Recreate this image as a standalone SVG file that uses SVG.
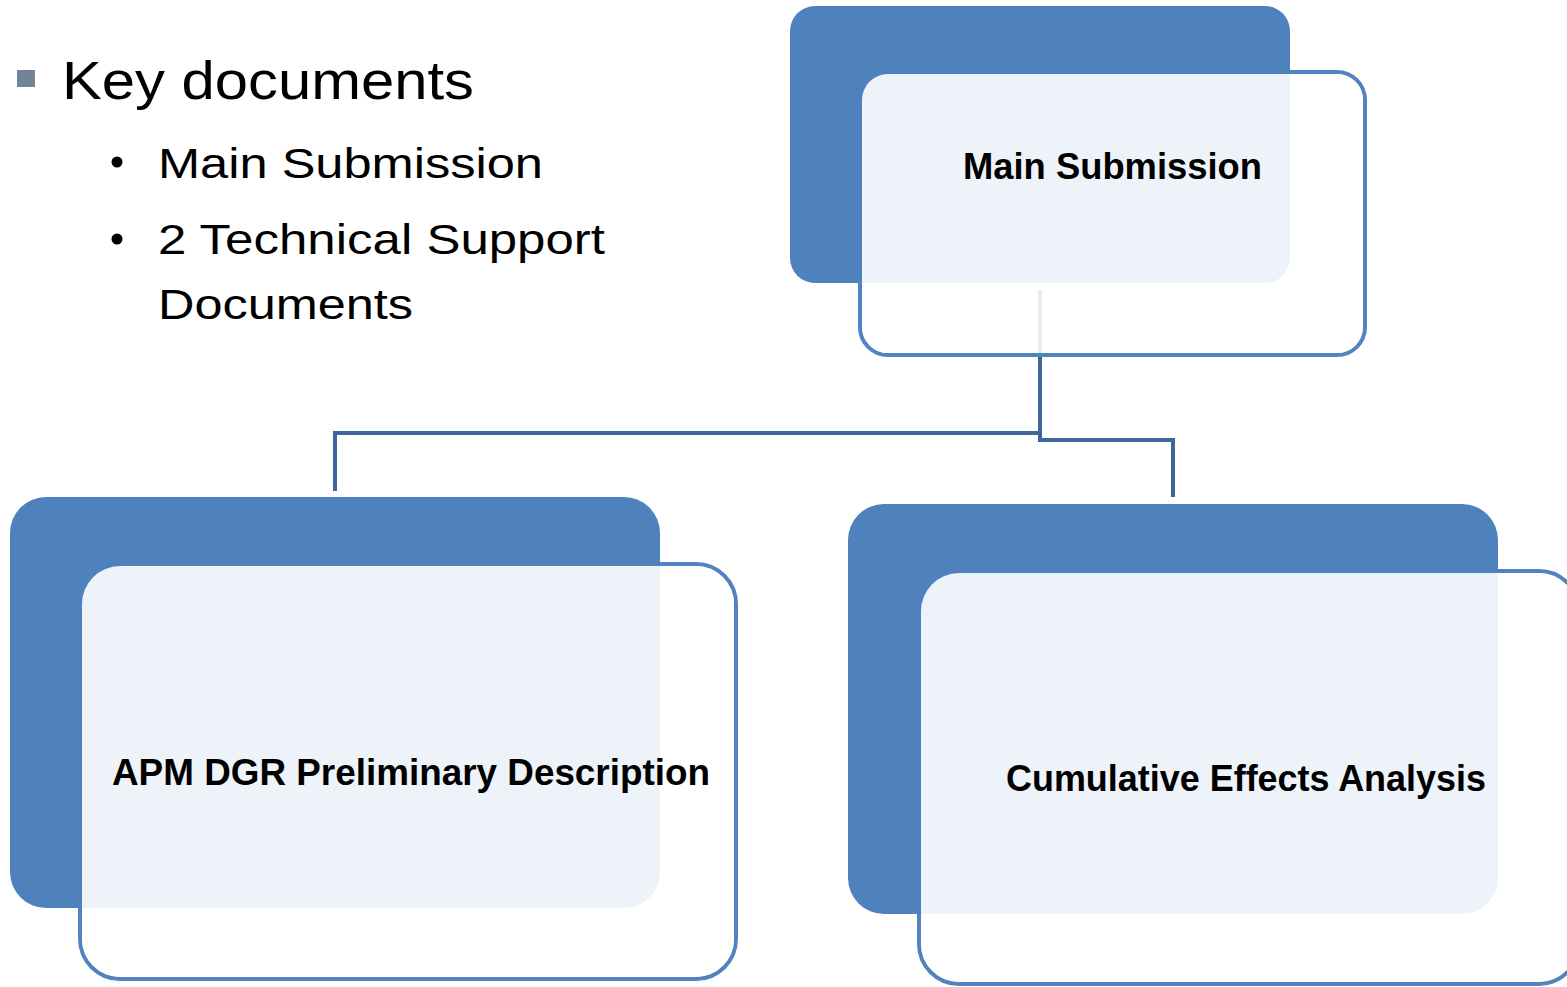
<svg xmlns="http://www.w3.org/2000/svg" width="1567" height="987" viewBox="0 0 1567 987">
<style>
.outline{fill:#ffffff;stroke:#5283C0;stroke-width:4}
.back{fill:#4F81BD}
.veil{fill:#ffffff;fill-opacity:0.9}
.lbl{font-family:"Liberation Sans",Arial,sans-serif;font-weight:bold;font-size:36px;fill:#000}
.body{font-family:"Liberation Sans",Arial,sans-serif;fill:#000}
.conn{fill:none;stroke:#3F6698;stroke-width:4}
</style>
<rect width="1567" height="987" fill="#ffffff"/>
<g id="bullets">
<rect x="17" y="70" width="18" height="17" fill="#718596"/>
<text class="body" x="62" y="99" font-size="53" textLength="412" lengthAdjust="spacingAndGlyphs">Key documents</text>
<circle cx="117" cy="162" r="5.5" fill="#000"/>
<text class="body" x="158" y="178" font-size="43" textLength="385" lengthAdjust="spacingAndGlyphs">Main Submission</text>
<circle cx="117" cy="239" r="5.5" fill="#000"/>
<text class="body" x="158" y="254" font-size="43" textLength="447" lengthAdjust="spacingAndGlyphs">2 Technical Support</text>
<text class="body" x="158" y="319" font-size="43" textLength="255" lengthAdjust="spacingAndGlyphs">Documents</text>
</g>
<g id="node-main">
<rect class="outline" x="860" y="72" width="505" height="283" rx="28"/>
<rect class="back" x="790" y="6" width="500" height="277" rx="25"/>
<rect class="veil" x="862" y="74" width="501" height="279" rx="26"/>
<text class="lbl" x="963" y="179" textLength="299" lengthAdjust="spacingAndGlyphs">Main Submission</text>
</g>
<g id="node-apm">
<rect class="outline" x="80" y="564" width="656" height="415" rx="40"/>
<rect class="back" x="10" y="497" width="650" height="411" rx="36"/>
<rect class="veil" x="82" y="566" width="652" height="411" rx="38"/>
<text class="lbl" x="112" y="785" textLength="598" lengthAdjust="spacingAndGlyphs">APM DGR Preliminary Description</text>
</g>
<g id="node-cea">
<rect class="outline" x="919" y="571" width="660" height="413" rx="40"/>
<rect class="back" x="848" y="504" width="650" height="410" rx="36"/>
<rect class="veil" x="921" y="573" width="656" height="409" rx="38"/>
<text class="lbl" x="1006" y="791" textLength="480" lengthAdjust="spacingAndGlyphs">Cumulative Effects Analysis</text>
</g>
<g id="connectors">
<line x1="1040" y1="290" x2="1040" y2="353" stroke="#E8ECF3" stroke-width="4"/>
<polyline class="conn" points="1040,357 1040,433 335,433 335,491"/>
<polyline class="conn" points="1040,433 1040,440 1173,440 1173,497"/>
</g>
</svg>
